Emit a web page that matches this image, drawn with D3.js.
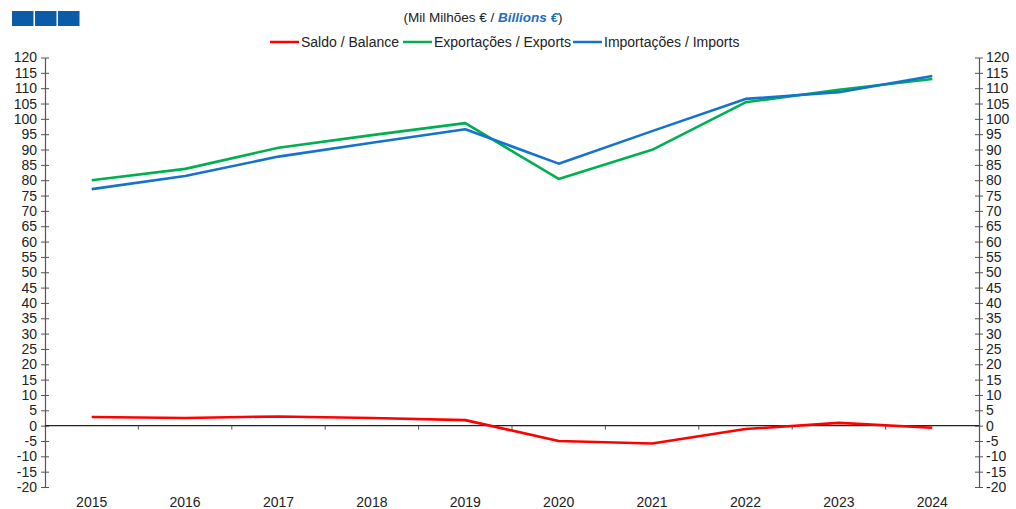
<!DOCTYPE html>
<html>
<head>
<meta charset="utf-8">
<script src="https://cdn.jsdelivr.net/npm/d3@7"></script>
<style>
  body { margin: 0; background: #fff; }
  text { font-family: "Liberation Sans", Arial, sans-serif; }
</style>
</head>
<body>
<script>
// data
var years = ["2015", "2016", "2017", "2018", "2019", "2020", "2021", "2022", "2023", "2024"];
var balance = [2.8, 2.5, 3.0, 2.5, 1.8, -5.0, -5.8, -1.1, 0.9, -0.7];
var exportsV = [80.0, 83.7, 90.6, 94.7, 98.6, 80.4, 89.9, 105.4, 109.5, 113.0];
var importsV = [77.1, 81.4, 87.7, 92.2, 96.6, 85.4, 96.0, 106.5, 108.7, 114.0];
var yTicks = d3.range(-20, 121, 5);

var series = [
  {name: "Saldo / Balance", values: balance, color: "#ff0000"},
  {name: "Exportações / Exports", values: exportsV, color: "#00b050"},
  {name: "Importações / Imports", values: importsV, color: "#1473cc"}
];

var width = 1016,
    height = 509;

var svg = d3.select("body").append("svg")
    .attr("width", width)
    .attr("height", height);

// scales
var x = d3.scaleBand()
    .domain(years)
    .range([45, 979]);

var y = d3.scaleLinear()
    .domain([-20, 120])
    .range([487, 57.5]);

// blue squares top left
svg.selectAll("rect.sq")
  .data([0, 1, 2])
  .enter().append("rect")
    .attr("class", "sq")
    .attr("x", function(d){ return 12 + d * 23; })
    .attr("y", 11)
    .attr("width", 21.5)
    .attr("height", 15)
    .attr("fill", "#0a5ca8");

// title
var title = svg.append("text")
    .attr("x", 483)
    .attr("y", 22)
    .attr("text-anchor", "middle")
    .attr("font-size", 13.5)
    .attr("fill", "#222");
title.append("tspan").text("(Mil Milhões € / ");
title.append("tspan").text("Billions €")
    .attr("font-weight", "bold")
    .attr("font-style", "italic")
    .attr("fill", "#1f6fbf");
title.append("tspan").text(")");

// legend
var legendX = [270, 403, 573];
var leg = svg.selectAll("g.leg")
  .data(series)
  .enter().append("g")
    .attr("class", "leg")
    .attr("transform", function(d, i){ return "translate(" + legendX[i] + ",42)"; });
leg.append("line")
    .attr("x1", 0).attr("x2", 29)
    .attr("stroke", function(d){ return d.color; })
    .attr("stroke-width", 2.5);
leg.append("text")
    .attr("x", 31)
    .attr("y", 5)
    .attr("font-size", 14)
    .attr("fill", "#222")
    .text(function(d){ return d.name; });

// y axes
var fmt = function(d){ return String(d); };
var yLeft = d3.axisLeft(y).tickValues(yTicks).tickFormat(fmt).tickSize(0).tickPadding(8);
var yRight = d3.axisRight(y).tickValues(yTicks).tickFormat(fmt).tickSize(0).tickPadding(7);

var gl = svg.append("g").attr("transform", "translate(45,0)").call(yLeft);
var gr = svg.append("g").attr("transform", "translate(979,0)").call(yRight);

[gl, gr].forEach(function(g){
  g.select(".domain").attr("stroke", "#555").attr("stroke-width", 1.2);
  g.selectAll(".tick text").attr("font-size", 14).attr("fill", "#222")
      .attr("font-family", "Liberation Sans, Arial, sans-serif");
  g.selectAll(".tick").append("line")
      .attr("x1", -4).attr("x2", 4)
      .attr("stroke", "#555");
});

// x axis at zero
var gx = svg.append("g").attr("transform", "translate(0," + y(0) + ")");
gx.append("line")
    .attr("x1", 45).attr("x2", 979)
    .attr("stroke", "#222").attr("stroke-width", 1.2);
gx.selectAll("line.xt")
  .data(years.slice(1))
  .enter().append("line")
    .attr("class", "xt")
    .attr("x1", function(d){ return x(d); })
    .attr("x2", function(d){ return x(d); })
    .attr("y1", 0).attr("y2", 4)
    .attr("stroke", "#555");

svg.selectAll("text.year")
  .data(years)
  .enter().append("text")
    .attr("class", "year")
    .attr("x", function(d){ return x(d) + x.bandwidth() / 2; })
    .attr("y", 507)
    .attr("text-anchor", "middle")
    .attr("font-size", 14)
    .attr("fill", "#222")
    .text(function(d){ return d; });

// lines
var line = d3.line()
    .x(function(d, i){ return x(years[i]) + x.bandwidth() / 2; })
    .y(function(d){ return y(d); });

svg.selectAll("path.series")
  .data(series)
  .enter().append("path")
    .attr("class", "series")
    .attr("d", function(d){ return line(d.values); })
    .attr("fill", "none")
    .attr("stroke", function(d){ return d.color; })
    .attr("stroke-width", 2.6)
    .attr("stroke-linejoin", "round");
</script>
</body>
</html>
